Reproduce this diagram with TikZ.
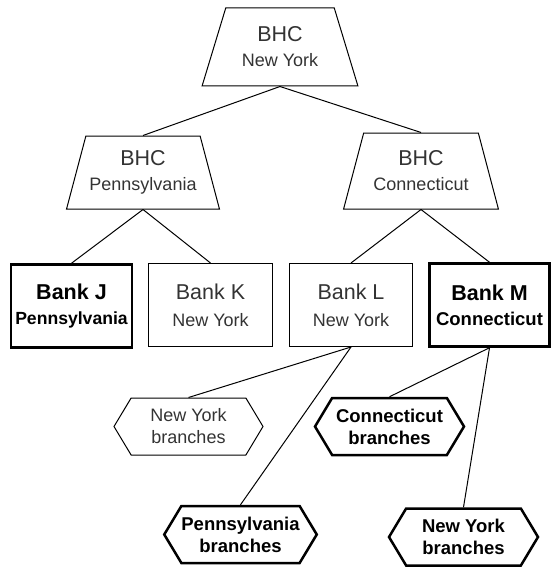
\documentclass[tikz,border=0pt]{standalone}
\usepackage{fontspec}
\setmainfont{Liberation Sans}
\usetikzlibrary{shapes.geometric,shapes.symbols}
\definecolor{txt}{HTML}{333333}
\tikzset{
  x=1pt, y=-1pt,
  conn/.style={line width=1pt},
  bhc/.style={trapezium, trapezium stretches=true, trapezium left angle=67.5, trapezium right angle=67.5,
    draw, line width=1pt, inner sep=0pt, align=center, text=txt,
    font=\fontsize{18}{25}\selectfont},
  bank/.style={rectangle, draw, line width=1pt, minimum height=83pt, inner sep=0pt, align=center, text=txt,
    font=\fontsize{18}{27}\selectfont},
  bankb/.style={bank, line width=2.5pt, text=black, font=\bfseries\fontsize{18.5}{25}\selectfont},
  branch/.style={signal, signal to=east and west, signal pointer angle=118, draw, line width=1pt,
    minimum width=149pt, minimum height=57pt, inner sep=0pt, align=center, text=txt,
    font=\fontsize{18}{22}\selectfont},
  branchb/.style={branch, line width=2.5pt, text=black, font=\bfseries\fontsize{18.5}{22}\selectfont},
}
\newcommand{\firstline}[1]{{\fontsize{21.5}{25}\selectfont #1}}
\begin{document}
\begin{tikzpicture}
\useasboundingbox (0,0) rectangle (552,567);
\node[bhc, minimum width=156pt, minimum height=78pt] (top) at (280,47) {\firstline{BHC}\\New York};
\node[bhc, minimum width=153pt, minimum height=73pt] (lp) at (143,172.5) {\firstline{BHC}\\Pennsylvania};
\node[bhc, minimum width=155pt, minimum height=76pt] (rp) at (421,171) {\firstline{BHC}\\Connecticut};
\node[bankb, minimum width=121pt, font=\bfseries\fontsize{17.6}{25}\selectfont] (j) at (71.5,306) {\firstline{Bank J}\\Pennsylvania};
\node[bank, minimum width=124pt] (k) at (210.5,305) {\firstline{Bank K}\\New York};
\node[bank, minimum width=123pt] (l) at (351,305) {\firstline{Bank L}\\New York};
\node[bankb, minimum width=120pt] (m) at (489.5,305) {\firstline{Bank M}\\Connecticut};
\node[branch] (nyb) at (188.5,426.5) {New York\\branches};
\node[branchb] (ctb) at (389.5,426.5) {Connecticut\\branches};
\node[branchb] (pab) at (240.5,534.5) {Pennsylvania\\branches};
\node[branchb] (nyb2) at (463.5,537) {New York\\branches};
\draw[conn] (top.south) -- (lp.north);
\draw[conn] (top.south) -- (rp.north);
\draw[conn] (lp.south) -- (j.north);
\draw[conn] (lp.south) -- (k.north);
\draw[conn] (rp.south) -- (l.north);
\draw[conn] (rp.south) -- (m.north);
\draw[conn] (l.south) -- (nyb.north);
\draw[conn] (l.south) -- (pab.north);
\draw[conn] (m.south) -- (ctb.north);
\draw[conn] (m.south) -- (nyb2.north);
\end{tikzpicture}
\end{document}
